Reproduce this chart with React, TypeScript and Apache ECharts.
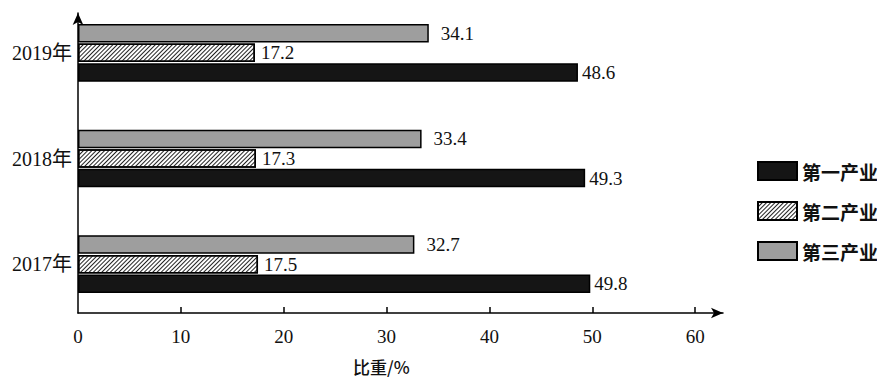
import React, { useEffect, useRef } from "react";
import * as echarts from "echarts";

// 三次产业增加值占比（%）
const years = ["2017年", "2018年", "2019年"];
const seriesNames = ["第一产业", "第二产业", "第三产业"];
const primaryShare = [49.8, 49.3, 48.6];
const secondaryShare = [17.5, 17.3, 17.2];
const tertiaryShare = [32.7, 33.4, 34.1];
const xTicks = [0, 10, 20, 30, 40, 50, 60];
const axisTitle = "比重/%";

const SERIF = "'Liberation Serif', 'DejaVu Serif', 'Noto Sans CJK SC', serif";
const CJK = "'Noto Sans CJK SC', sans-serif";

const valueLabel = (distance: number) => ({
  show: true,
  position: "right" as const,
  distance,
  color: "#111",
  fontFamily: SERIF,
  fontSize: 19,
  formatter: (p: any) => Number(p.value).toFixed(1),
});

export default function App() {
  const ref = useRef<HTMLDivElement>(null);

  useEffect(() => {
    if (!ref.current) return;
    const chart = echarts.init(ref.current, undefined, { renderer: "svg" });
    const axisStroke = { color: "#000", width: 1.5 };
    const bar = { type: "bar", barWidth: 18.5, barGap: "6%" };

    chart.setOption({
      animation: false,
      backgroundColor: "#fff",
      grid: [
        { left: 78, right: 154, top: 0, bottom: 61 },
        { left: 78, top: 13, bottom: 65, width: 10 },
      ],
      legend: {
        orient: "vertical",
        left: 752,
        top: 156,
        icon: "rect",
        itemWidth: 39,
        itemHeight: 18,
        itemGap: 20,
        data: seriesNames,
        textStyle: { fontFamily: CJK, fontSize: 19, fontWeight: "bold", color: "#111" },
      },
      // x-axis title, set low under the tick labels
      graphic: [
        {
          type: "text",
          left: 353,
          top: 358,
          style: {
            text: axisTitle,
            fontFamily: CJK,
            fontSize: 17,
            fontWeight: 500,
            fill: "#111",
          },
        },
      ],
      xAxis: [
        {
          type: "value",
          gridIndex: 0,
          min: 0,
          max: 62.7,
          interval: 10,
          offset: -4,
          axisLine: {
            show: true,
            symbol: ["none", "arrow"],
            symbolSize: [8, 12],
            lineStyle: axisStroke,
          },
          axisTick: {
            show: true,
            inside: true,
            length: 6,
            customValues: xTicks.slice(1),
            lineStyle: axisStroke,
          },
          axisLabel: {
            customValues: xTicks,
            margin: 14,
            color: "#111",
            fontFamily: SERIF,
            fontSize: 19,
          },
          splitLine: { show: false },
        },
        { type: "value", gridIndex: 1, show: false },
      ],
      yAxis: [
        {
          type: "category",
          gridIndex: 0,
          data: years,
          axisLine: { show: false },
          axisTick: { show: false },
          axisLabel: {
            margin: 6,
            color: "#111",
            fontFamily: SERIF,
            fontSize: 20,
          },
        },
        {
          type: "value",
          gridIndex: 1,
          axisLine: {
            show: true,
            onZero: false,
            symbol: ["none", "arrow"],
            symbolSize: [8, 12],
            lineStyle: axisStroke,
          },
          axisTick: { show: false },
          axisLabel: { show: false },
          splitLine: { show: false },
        },
      ],
      // drawn top-to-bottom within each year: 第三产业, 第二产业, 第一产业
      series: [
        {
          ...bar,
          name: seriesNames[2],
          data: tertiaryShare,
          itemStyle: { color: "#9e9e9e", borderColor: "#000", borderWidth: 1.5 },
          label: valueLabel(12),
        },
        {
          ...bar,
          name: seriesNames[1],
          data: secondaryShare,
          itemStyle: {
            color: "#fff",
            borderColor: "#000",
            borderWidth: 1.5,
            decal: {
              symbol: "rect",
              symbolSize: 1,
              color: "#222",
              dashArrayX: [1, 0],
              dashArrayY: [1, 2],
              rotation: -Math.PI / 4,
            },
          },
          label: valueLabel(6),
        },
        {
          ...bar,
          name: seriesNames[0],
          data: primaryShare,
          itemStyle: { color: "#151515", borderColor: "#000", borderWidth: 1.5 },
          label: valueLabel(4),
        },
      ],
    });

    return () => chart.dispose();
  }, []);

  return (
    <div
      ref={ref}
      style={{ position: "fixed", left: 0, top: 0, width: 877, height: 378 }}
    />
  );
}
